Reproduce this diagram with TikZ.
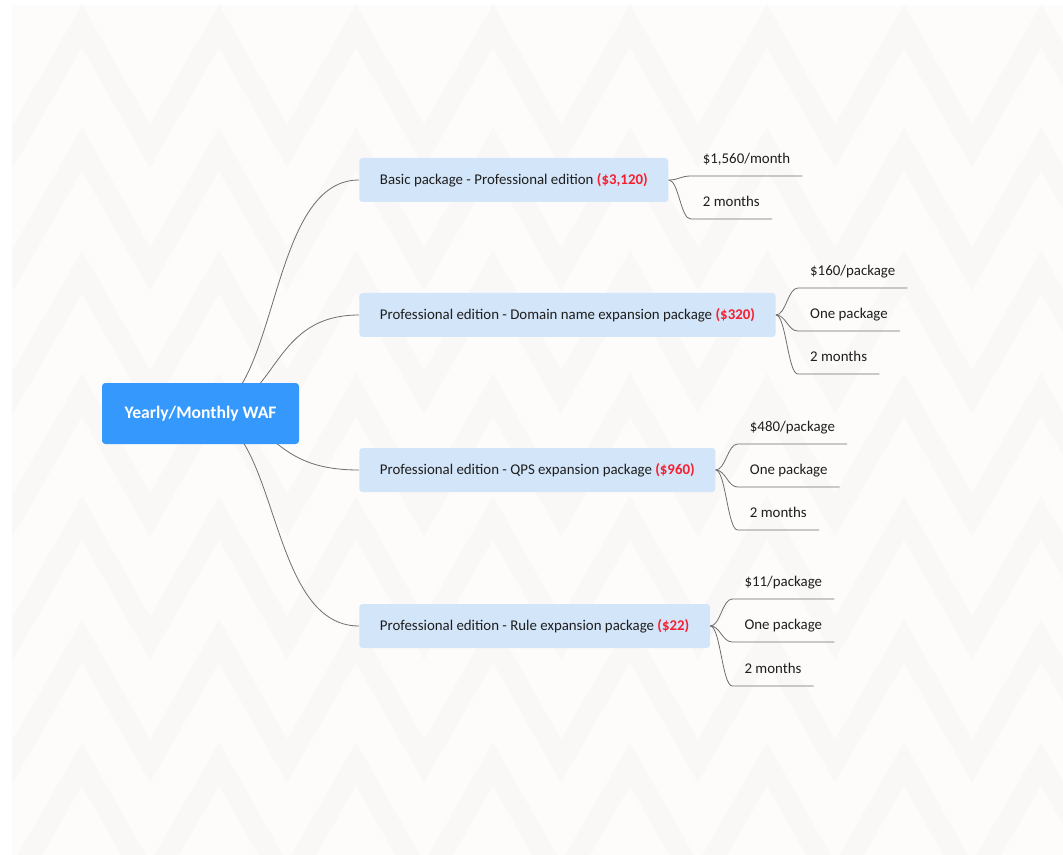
\documentclass[tikz,border=0pt]{standalone}
\usepackage{fontspec}
\setmainfont{Carlito}
\usetikzlibrary{calc}
\definecolor{paper}{RGB}{253,252,251}
\definecolor{zig}{RGB}{249,248,247}
\definecolor{rootblue}{RGB}{52,152,253}
\definecolor{branchblue}{RGB}{211,229,249}
\definecolor{ink}{RGB}{30,30,30}
\definecolor{price}{RGB}{246,32,48}
\definecolor{linkgray}{RGB}{110,110,110}
\pgfdeclarelayer{paperlayer}
\pgfdeclarelayer{linklayer}
\pgfsetlayers{paperlayer,linklayer,main}

\begin{document}
\begin{tikzpicture}[x=0.75pt,y=-0.75pt,
    rootbox/.style={fill=rootblue, rounded corners=2.5pt, minimum width=147.75pt, minimum height=45.75pt, text=white, font=\fontsize{13.2}{15}\selectfont\bfseries},
    branchbox/.style={fill=branchblue, rounded corners=2.5pt, anchor=west, minimum height=33pt, inner xsep=15.5pt, text=ink, font=\fontsize{11.15}{13}\selectfont},
    leaf/.style={anchor=south west, inner xsep=9pt, inner ysep=0pt, text height=7.5pt, text depth=9.2pt, text=ink, font=\fontsize{11.15}{13}\selectfont},
    link/.style={draw=linkgray, line width=0.6pt},
    zigline/.style={draw=zig, line width=16pt, line join=miter}]
      \useasboundingbox (0,0) rectangle (1063,855);
      \begin{pgfonlayer}{paperlayer}
        \fill[white] (0,0) rectangle (1063,855);
        \fill[paper] (12,5) rectangle (1063,855);
        \begin{scope}
          \clip (12,5) rectangle (1063,855);
          \foreach \r in {0,...,6}
            \draw[zigline] (-124,26+123*\r+120) \foreach \k in {-1,...,7} { -- (82+137*\k,26+123*\r) -- (150+137*\k,26+123*\r+120) };
        \end{scope}
      \end{pgfonlayer}

      \node[rootbox] (root) at (200.5,413.5) {Yearly/Monthly WAF};

      \node[branchbox] (b1) at (359,180) {Basic package - Professional edition \textcolor{price}{\bfseries(\$3,120)}};
      \node[branchbox] (b2) at (359,315) {Professional edition - Domain name expansion package \textcolor{price}{\bfseries(\$320)}};
      \node[branchbox] (b3) at (359,470) {Professional edition - QPS expansion package \textcolor{price}{\bfseries(\$960)}};
      \node[branchbox] (b4) at (359,626) {Professional edition - Rule expansion package \textcolor{price}{\bfseries(\$22)}};

      \begin{pgfonlayer}{linklayer}
        \foreach \b in {b1,b2,b3,b4}
          \draw[link] (root.center) .. controls +(80,0) and +(-94,0) .. (\b.west);
      \end{pgfonlayer}

      % leaves
      \node[leaf] (l11) at ($(b1.east)+(22,-4)$) {\$1,560/month};
      \node[leaf] (l12) at ($(b1.east)+(22,39)$) {2 months};

      \node[leaf] (l21) at ($(b2.east)+(22,-27)$) {\$160/package};
      \node[leaf] (l22) at ($(b2.east)+(22,16)$) {One package};
      \node[leaf] (l23) at ($(b2.east)+(22,59)$) {2 months};

      \node[leaf] (l31) at ($(b3.east)+(22,-26)$) {\$480/package};
      \node[leaf] (l32) at ($(b3.east)+(22,17)$) {One package};
      \node[leaf] (l33) at ($(b3.east)+(22,60)$) {2 months};

      \node[leaf] (l41) at ($(b4.east)+(22,-27)$) {\$11/package};
      \node[leaf] (l42) at ($(b4.east)+(22,16)$) {One package};
      \node[leaf] (l43) at ($(b4.east)+(22,60)$) {2 months};

      \foreach \l in {l11,l12}
        \draw[link] (b1.east) .. controls +(10,0) and +(-10,0) .. (\l.south west) -- (\l.south east);
      \foreach \l in {l21,l22,l23}
        \draw[link] (b2.east) .. controls +(10,0) and +(-10,0) .. (\l.south west) -- (\l.south east);
      \foreach \l in {l31,l32,l33}
        \draw[link] (b3.east) .. controls +(10,0) and +(-10,0) .. (\l.south west) -- (\l.south east);
      \foreach \l in {l41,l42,l43}
        \draw[link] (b4.east) .. controls +(10,0) and +(-10,0) .. (\l.south west) -- (\l.south east);

    \end{tikzpicture}
\end{document}
